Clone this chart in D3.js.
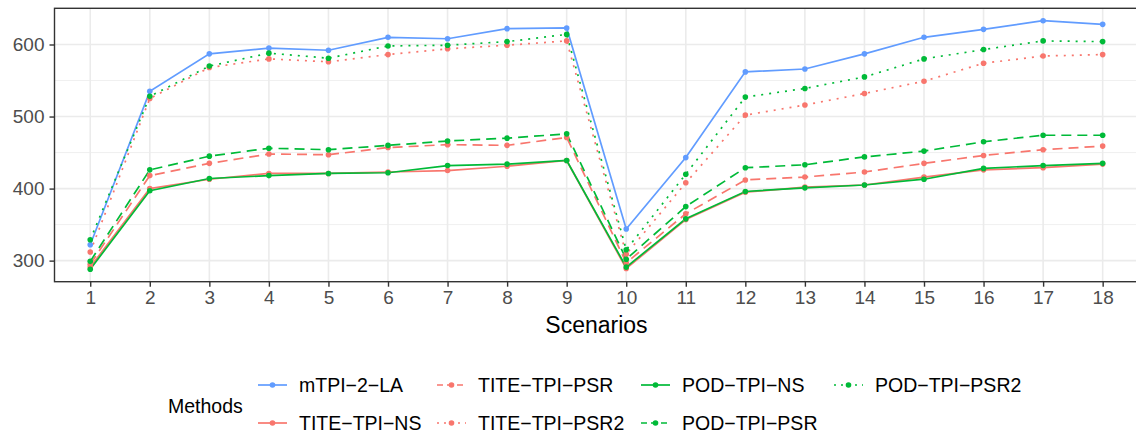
<!DOCTYPE html>
<html>
<head>
<meta charset="utf-8">
<script src="https://cdn.jsdelivr.net/npm/d3@7"></script>
<style>
  body { margin: 0; background: #fff; }
  svg text { font-family: "Liberation Sans", Arial, Helvetica, sans-serif; }
</style>
</head>
<body>
<svg id="chart"></svg>
<script>
// Scenario categories on the x axis
const scenarios = [1, 2, 3, 4, 5, 6, 7, 8, 9, 10, 11, 12, 13, 14, 15, 16, 17, 18];

// Series values
const mTPI2LA   = [322, 535, 587, 595, 592, 610, 608, 622, 623, 344, 443, 562, 566, 587, 610, 621, 633, 628];
const titeNS    = [291, 400, 413, 421, 421, 423, 425, 431, 439, 289, 357, 395, 402, 405, 416, 426, 429, 434];
const titePSR   = [295, 418, 435, 448, 447, 457, 461, 460, 471, 297, 365, 412, 416, 423, 435, 446, 454, 459];
const titePSR2  = [312, 525, 568, 580, 576, 586, 594, 599, 605, 309, 408, 502, 516, 532, 549, 574, 584, 586];
const podNS     = [288, 397, 414, 418, 421, 422, 432, 434, 439, 291, 358, 396, 401, 405, 413, 428, 432, 435];
const podPSR    = [299, 426, 445, 456, 454, 460, 466, 470, 476, 302, 375, 429, 433, 444, 452, 465, 474, 474];
const podPSR2   = [329, 528, 570, 588, 581, 598, 599, 604, 614, 315, 420, 527, 539, 555, 580, 593, 605, 604];

// Legend names (in legend order) and y tick labels
const methodNames = ["mTPI−2−LA", "TITE−TPI−NS", "TITE−TPI−PSR", "TITE−TPI−PSR2", "POD−TPI−NS", "POD−TPI−PSR", "POD−TPI−PSR2"];
const yTicks = [300, 400, 500, 600];
const yMinorTicks = [350, 450, 550];

const width = 1136;
const height = 440;
const panel = { left: 54.5, right: 1138.4, top: 8.3, bottom: 281.7 };

const red = "#F8766D", green = "#00BA38", blue = "#619CFF";

const series = [
    { name: methodNames[0], values: mTPI2LA,  color: blue,  dash: null },
    { name: methodNames[1], values: titeNS,   color: red,   dash: null },
    { name: methodNames[2], values: titePSR,  color: red,   dash: "10,6" },
    { name: methodNames[3], values: titePSR2, color: red,   dash: "2,6" },
    { name: methodNames[4], values: podNS,    color: green, dash: null },
    { name: methodNames[5], values: podPSR,   color: green, dash: "10,6" },
    { name: methodNames[6], values: podPSR2,  color: green, dash: "2,6" }
];

const svg = d3.select("#chart")
    .attr("width", width)
    .attr("height", height);

// Discrete x axis with ggplot's 0.6 expansion on both sides
const x = d3.scaleLinear()
    .domain([scenarios[0] - 0.6, scenarios[scenarios.length - 1] + 0.6])
    .range([panel.left, panel.right]);

// Continuous y with 5% expansion
const allValues = series.flatMap(s => s.values);
const yMin = d3.min(allValues), yMax = d3.max(allValues);
const pad = (yMax - yMin) * 0.05;
const y = d3.scaleLinear()
    .domain([yMin - pad, yMax + pad])
    .range([panel.bottom, panel.top]);

// Panel background + grid
const grid = svg.append("g");
grid.selectAll(".minor")
    .data(yMinorTicks)
    .enter()
    .append("line")
    .attr("x1", panel.left).attr("x2", panel.right)
    .attr("y1", d => y(d)).attr("y2", d => y(d))
    .attr("stroke", "#ebebeb")
    .attr("stroke-width", 0.8);

grid.selectAll(".major-y")
    .data(yTicks)
    .enter()
    .append("line")
    .attr("x1", panel.left).attr("x2", panel.right)
    .attr("y1", d => y(d)).attr("y2", d => y(d))
    .attr("stroke", "#ebebeb")
    .attr("stroke-width", 1.6);

grid.selectAll(".major-x")
    .data(scenarios)
    .enter()
    .append("line")
    .attr("x1", d => x(d)).attr("x2", d => x(d))
    .attr("y1", panel.top).attr("y2", panel.bottom)
    .attr("stroke", "#ebebeb")
    .attr("stroke-width", 1.6);

// Lines
const line = d3.line()
    .x((d, i) => x(scenarios[i]))
    .y(d => y(d));

svg.append("g")
    .selectAll("path")
    .data(series)
    .enter()
    .append("path")
    .attr("d", d => line(d.values))
    .attr("fill", "none")
    .attr("stroke", d => d.color)
    .attr("stroke-width", 1.7)
    .attr("stroke-dasharray", d => d.dash);

// Points
svg.append("g")
    .selectAll("g")
    .data(series)
    .enter()
    .append("g")
    .attr("fill", d => d.color)
    .selectAll("circle")
    .data(d => d.values)
    .enter()
    .append("circle")
    .attr("cx", (d, i) => x(scenarios[i]))
    .attr("cy", d => y(d))
    .attr("r", 2.8);

// Panel border
svg.append("rect")
    .attr("x", panel.left)
    .attr("y", panel.top)
    .attr("width", panel.right - panel.left)
    .attr("height", panel.bottom - panel.top)
    .attr("fill", "none")
    .attr("stroke", "#333333")
    .attr("stroke-width", 1.4);

// Axes
const yAxis = svg.append("g")
    .attr("transform", `translate(${panel.left},0)`)
    .call(d3.axisLeft(y).tickValues(yTicks).tickSize(5).tickPadding(5));

const xAxis = svg.append("g")
    .attr("transform", `translate(0,${panel.bottom})`)
    .call(d3.axisBottom(x).tickValues(scenarios).tickSize(5).tickPadding(4).tickFormat(d3.format("d")));

[yAxis, xAxis].forEach(ax => {
    ax.select(".domain").remove();
    ax.selectAll(".tick line").attr("stroke", "#333333").attr("stroke-width", 1.4);
    ax.selectAll(".tick text")
        .style("font-size", "19px")
        .attr("fill", "#4d4d4d");
});

// Axis title
svg.append("text")
    .attr("x", (panel.left + panel.right) / 2)
    .attr("y", 333)
    .attr("text-anchor", "middle")
    .style("font-size", "23px")
    .attr("fill", "#000")
    .text("Scenarios");

// Legend (4 columns, filled by column)
svg.append("text")
    .attr("x", 168)
    .attr("y", 413)
    .style("font-size", "19.5px")
    .attr("fill", "#000")
    .text("Methods");

const colTextX = [299, 478, 682, 875];
const rowY = [385, 423];

const legend = svg.append("g")
    .selectAll("g")
    .data(series)
    .enter()
    .append("g")
    .attr("transform", (d, i) => `translate(${colTextX[Math.floor(i / 2)]},${rowY[i % 2]})`);

legend.append("line")
    .attr("x1", -41).attr("x2", -12)
    .attr("y1", 0).attr("y2", 0)
    .attr("stroke", d => d.color)
    .attr("stroke-width", 1.7)
    .attr("stroke-dasharray", d => d.dash ? (d.dash === "2,6" ? "2,5" : "6,4") : null);

legend.append("circle")
    .attr("cx", -26.5)
    .attr("cy", 0)
    .attr("r", 2.8)
    .attr("fill", d => d.color);

legend.append("text")
    .attr("x", 0)
    .attr("y", 7)
    .style("font-size", "19.5px")
    .attr("fill", "#000")
    .text(d => d.name);
</script>
</body>
</html>
